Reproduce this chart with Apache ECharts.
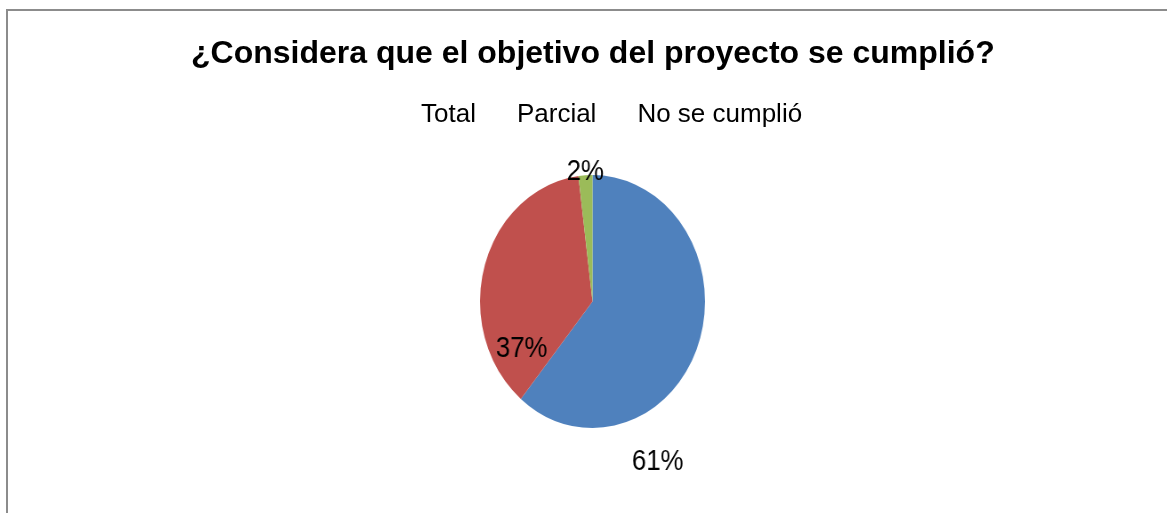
<!DOCTYPE html>
<html>
<head>
<meta charset="utf-8">
<script src="https://cdn.jsdelivr.net/npm/echarts@6/dist/echarts.min.js"></script>
<style>
html,body{margin:0;padding:0;background:#fff;overflow:hidden;}
#main{position:absolute;left:0;top:0;width:1167px;height:513px;}
#pie{position:absolute;left:0;top:0;width:1167px;height:513px;transform-origin:592.5px 301.5px;transform:scaleX(0.889);}
</style>
</head>
<body>
<div id="main"></div>
<div id="pie"></div>
<script>
const titleText = '¿Considera que el objetivo del proyecto se cumplió?';
const categories = ['Total', 'Parcial', 'No se cumplió'];
const values = [61, 37, 2];
const colors = ['#4F81BD', '#C0504D', '#9BBB59'];
const labelOffsets = [[11, 138], [-16, 66], [-4, -63]];

const main = echarts.init(document.getElementById('main'), null, {renderer: 'canvas'});
main.setOption({
  animation: false,
  graphic: [{
    type: 'rect',
    shape: {x: 7, y: 10, width: 1200, height: 600},
    style: {fill: 'none', stroke: '#8c8c8c', lineWidth: 2}
  }],
  title: {
    text: titleText,
    left: 186,
    top: 33,
    textStyle: {fontFamily: 'Liberation Sans, Arial', fontWeight: 'bold', fontSize: 32, color: '#000'}
  },
  legend: {
    data: categories,
    top: 97,
    left: 411,
    icon: 'none',
    itemWidth: 0,
    itemGap: 36,
    textStyle: {fontFamily: 'Liberation Sans, Arial', fontSize: 26, color: '#000'}
  },
  series: [{
    type: 'pie',
    radius: 0,
    silent: true,
    label: {show: false},
    data: categories.map((c, i) => ({name: c, value: values[i], itemStyle: {color: 'rgba(0,0,0,0)'}}))
  }]
});

const pie = echarts.init(document.getElementById('pie'), null, {renderer: 'canvas'});
pie.setOption({
  animation: false,
  series: [{
    type: 'pie',
    center: [592.5, 301.5],
    radius: 126.5,
    startAngle: 90,
    clockwise: true,
    avoidLabelOverlap: false,
    itemStyle: {borderWidth: 0},
    labelLine: {show: false},
    data: categories.map((c, i) => ({
      name: c,
      value: values[i],
      itemStyle: {color: colors[i]},
      label: {
        show: true,
        position: 'inside',
        offset: labelOffsets[i],
        formatter: '{d}%',
        fontFamily: 'Liberation Sans, Arial',
        fontSize: 29,
        color: '#000'
      }
    }))
  }]
});
</script>
</body>
</html>
